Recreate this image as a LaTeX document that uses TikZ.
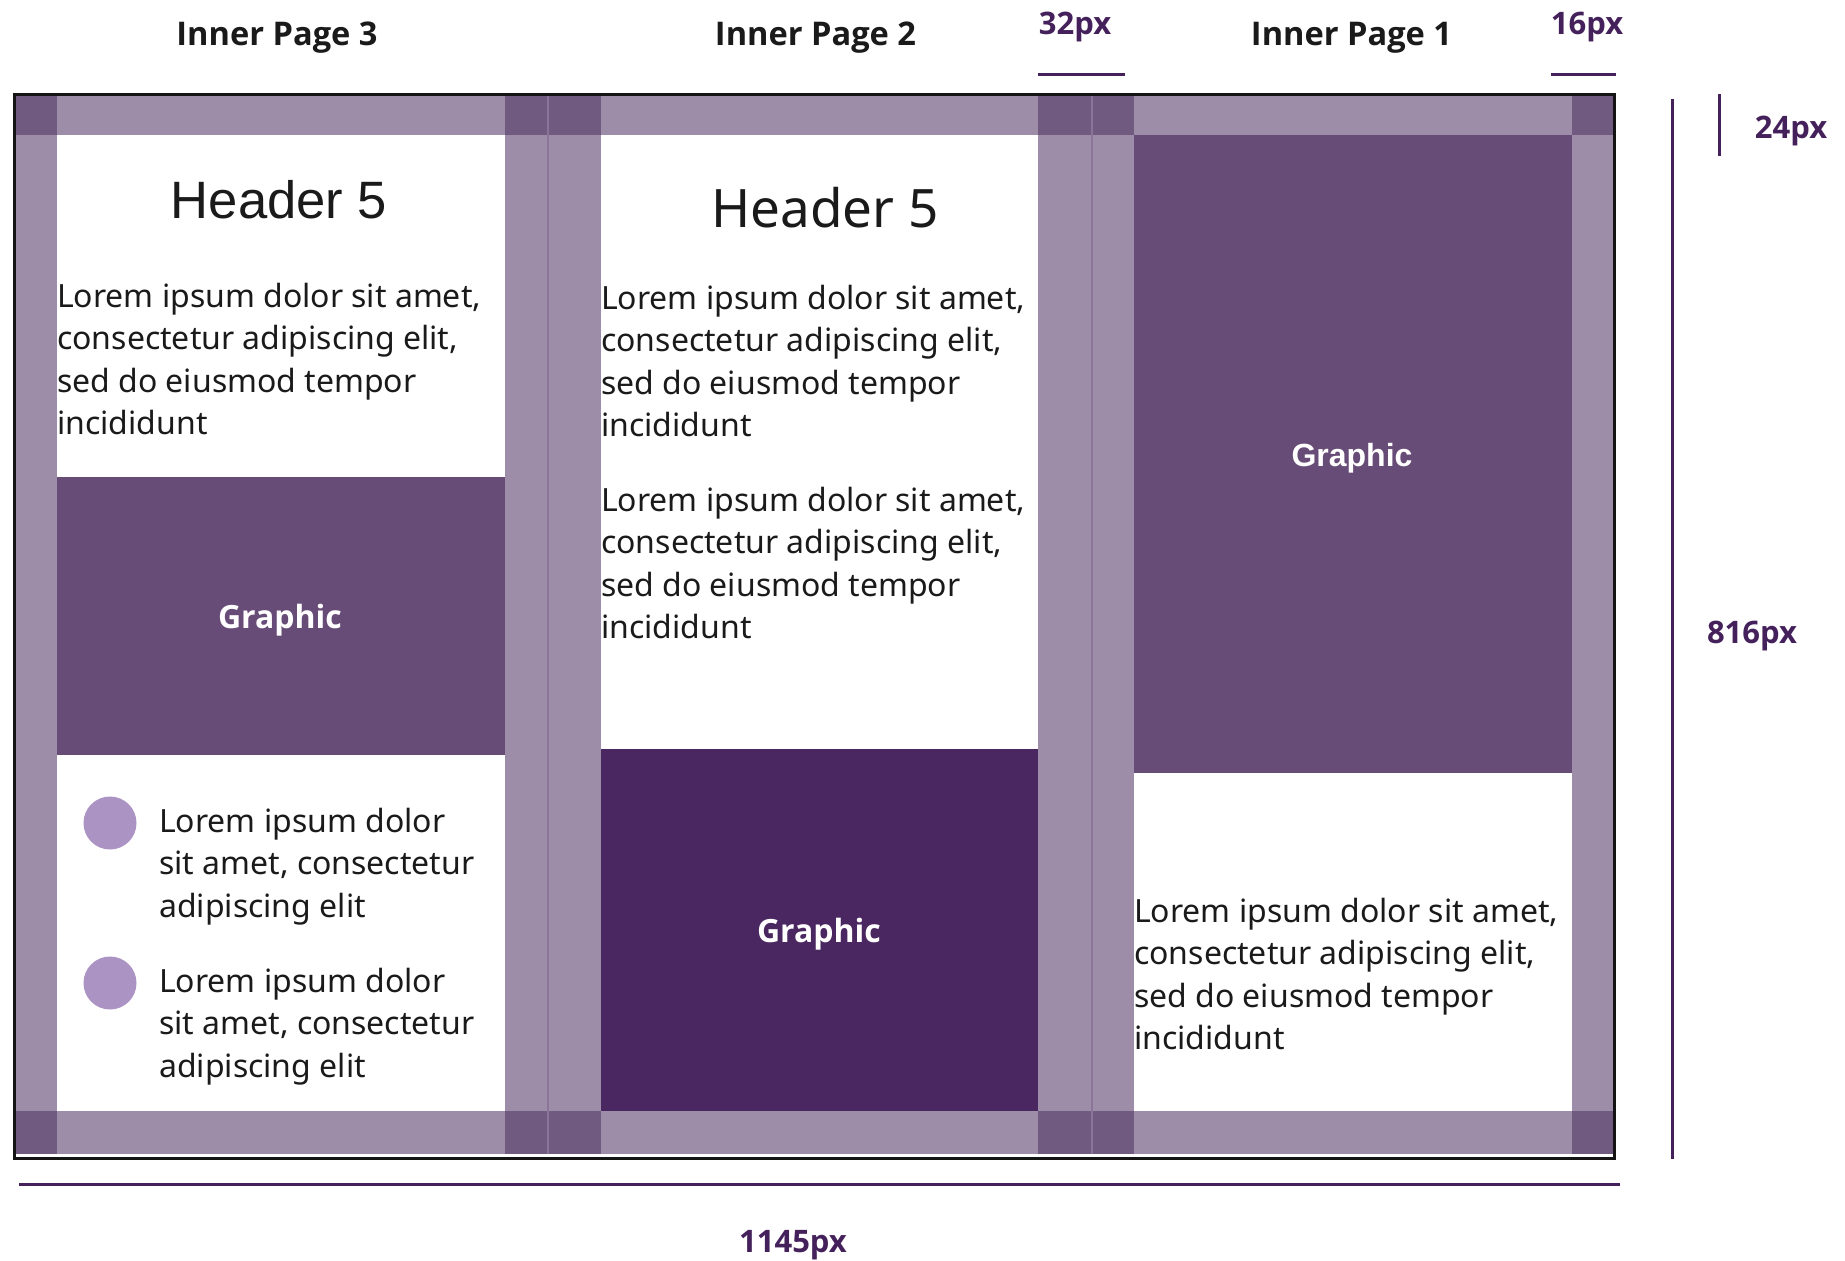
\documentclass[tikz,border=0pt]{standalone}
\usepackage{fontspec}
\setmainfont{Noto Sans}
\newfontfamily\boldsans{Open Sans}
\newfontfamily\arialfont{Liberation Sans}
\definecolor{band}{HTML}{9E8DA8}
\definecolor{corner}{HTML}{705A80}
\definecolor{graphicmid}{HTML}{684C78}
\definecolor{graphicdark}{HTML}{4A2760}
\definecolor{bulletcol}{HTML}{AB94C4}
\definecolor{dimpurple}{HTML}{45215C}
\definecolor{seam}{HTML}{8A7598}
\definecolor{ink}{HTML}{1A1A1A}
\newcommand\loremblock[3]{%
  \foreach \t [count=\i] in {{Lorem ipsum dolor sit amet,},{consectetur adipiscing elit,},{sed do eiusmod tempor},{incididunt}}
    \node[body] (#1\i) at (#2,{#3+42.6*(\i-1)}) {\t};}
\newcommand\bulletblock[3]{%
  \node[bulletdot] (#1dot) at (110,{#3-9}) {};
  \foreach \t [count=\i] in {{Lorem ipsum dolor},{sit amet, consectetur},{adipiscing elit}}
    \node[body] (#1\i) at (#2,{#3+42.6*(\i-1)}) {\t};}
\begin{document}
\begin{tikzpicture}[x=1pt,y=-1pt,
  body/.style={font=\fontsize{32}{42}\selectfont, text=ink, anchor=base west, inner sep=0pt},
  toplabel/.style={font=\boldsans\bfseries\fontsize{32.6}{38}\selectfont, text=ink, anchor=base, inner sep=0pt},
  dimlabel/.style={font=\boldsans\bfseries\fontsize{31}{36}\selectfont, text=dimpurple, anchor=base, inner sep=0pt},
  glabel/.style={font=\boldsans\bfseries\fontsize{32}{36}\selectfont, text=white, anchor=base, inner sep=0pt},
  gblock/.style={rectangle, inner sep=0pt, outer sep=0pt, anchor=north west},
  bulletdot/.style={circle, fill=bulletcol, minimum size=53pt, inner sep=0pt},
  dimline/.style={draw=dimpurple, line width=3pt},
]
\useasboundingbox (0,0) rectangle (1845,1261);
\fill[white] (0,0) rectangle (1845,1261);

% margin bands
\fill[band] (15,94) rectangle (1614,135);
\fill[band] (15,1111) rectangle (1614,1154);
\foreach \a/\b in {15/57,505/548,548/601,1038/1092,1092/1134,1572/1614}
  \fill[band] (\a,135) rectangle (\b,1111);
\foreach \a/\b in {15/57,505/601,1038/1134,1572/1614}{
  \fill[corner] (\a,94) rectangle (\b,135);
  \fill[corner] (\a,1111) rectangle (\b,1154);}
\draw[seam, line width=1.5pt] (548,94) -- (548,1154);
\draw[seam, line width=1.5pt] (1092,94) -- (1092,1154);

% graphic blocks
\node[gblock, fill=graphicmid, minimum width=448pt, minimum height=278pt] (gthree) at (57,477) {};
\node[gblock, fill=graphicdark, minimum width=437pt, minimum height=362pt] (gtwo) at (601,749) {};
\node[gblock, fill=graphicmid, minimum width=438pt, minimum height=638pt] (gone) at (1134,135) {};
\node[glabel] (gthreelabel) at (280,628.5) {Graphic};
\node[glabel] (gtwolabel) at (819,942.5) {Graphic};
\node[glabel, font=\arialfont\bfseries\fontsize{32}{36}\selectfont] (gonelabel) at (1352,466.5) {Graphic};

% frame
\draw[black!92, line width=3pt] (14,94) rectangle (1614,1158);

% headers
\node[anchor=base, inner sep=0pt, text=ink, font=\arialfont\fontsize{52.6}{60}\selectfont] (hthree) at (279,218) {Header 5};
\node[anchor=base, inner sep=0pt, text=ink, font=\fontsize{53}{60}\selectfont] (htwo) at (825,227) {Header 5};

% body text
\loremblock{pthree}{57}{307}
\loremblock{ptwoa}{601}{309}
\loremblock{ptwob}{601}{511}
\loremblock{pone}{1134}{922}
\bulletblock{bone}{159}{832}
\bulletblock{btwo}{159}{992}

% top labels
\node[toplabel] (ip3) at (277,45) {Inner Page 3};
\node[toplabel] (ip2) at (815.5,45) {Inner Page 2};
\node[toplabel] (ip1) at (1351.5,45) {Inner Page 1};

% dimensions
\node[dimlabel] (d32) at (1075,34) {32px};
\coordinate (d32a) at (1038,74); \coordinate (d32b) at (1125,74);
\draw[dimline] (d32a) -- (d32b);
\node[dimlabel] (d16) at (1587,34) {16px};
\coordinate (d16a) at (1551,74); \coordinate (d16b) at (1616,74);
\draw[dimline] (d16a) -- (d16b);
\coordinate (d24a) at (1719,94); \coordinate (d24b) at (1719,156);
\draw[dimline] (d24a) -- (d24b);
\node[dimlabel] (d24) at (1791,138) {24px};
\coordinate (d816a) at (1672,99); \coordinate (d816b) at (1672,1159);
\draw[dimline] (d816a) -- (d816b);
\node[dimlabel] (d816) at (1752,643) {816px};
\coordinate (dwa) at (19,1184); \coordinate (dwb) at (1620,1184);
\draw[dimline] (dwa) -- (dwb);
\node[dimlabel] (dw) at (793,1252) {1145px};
\end{tikzpicture}
\end{document}
